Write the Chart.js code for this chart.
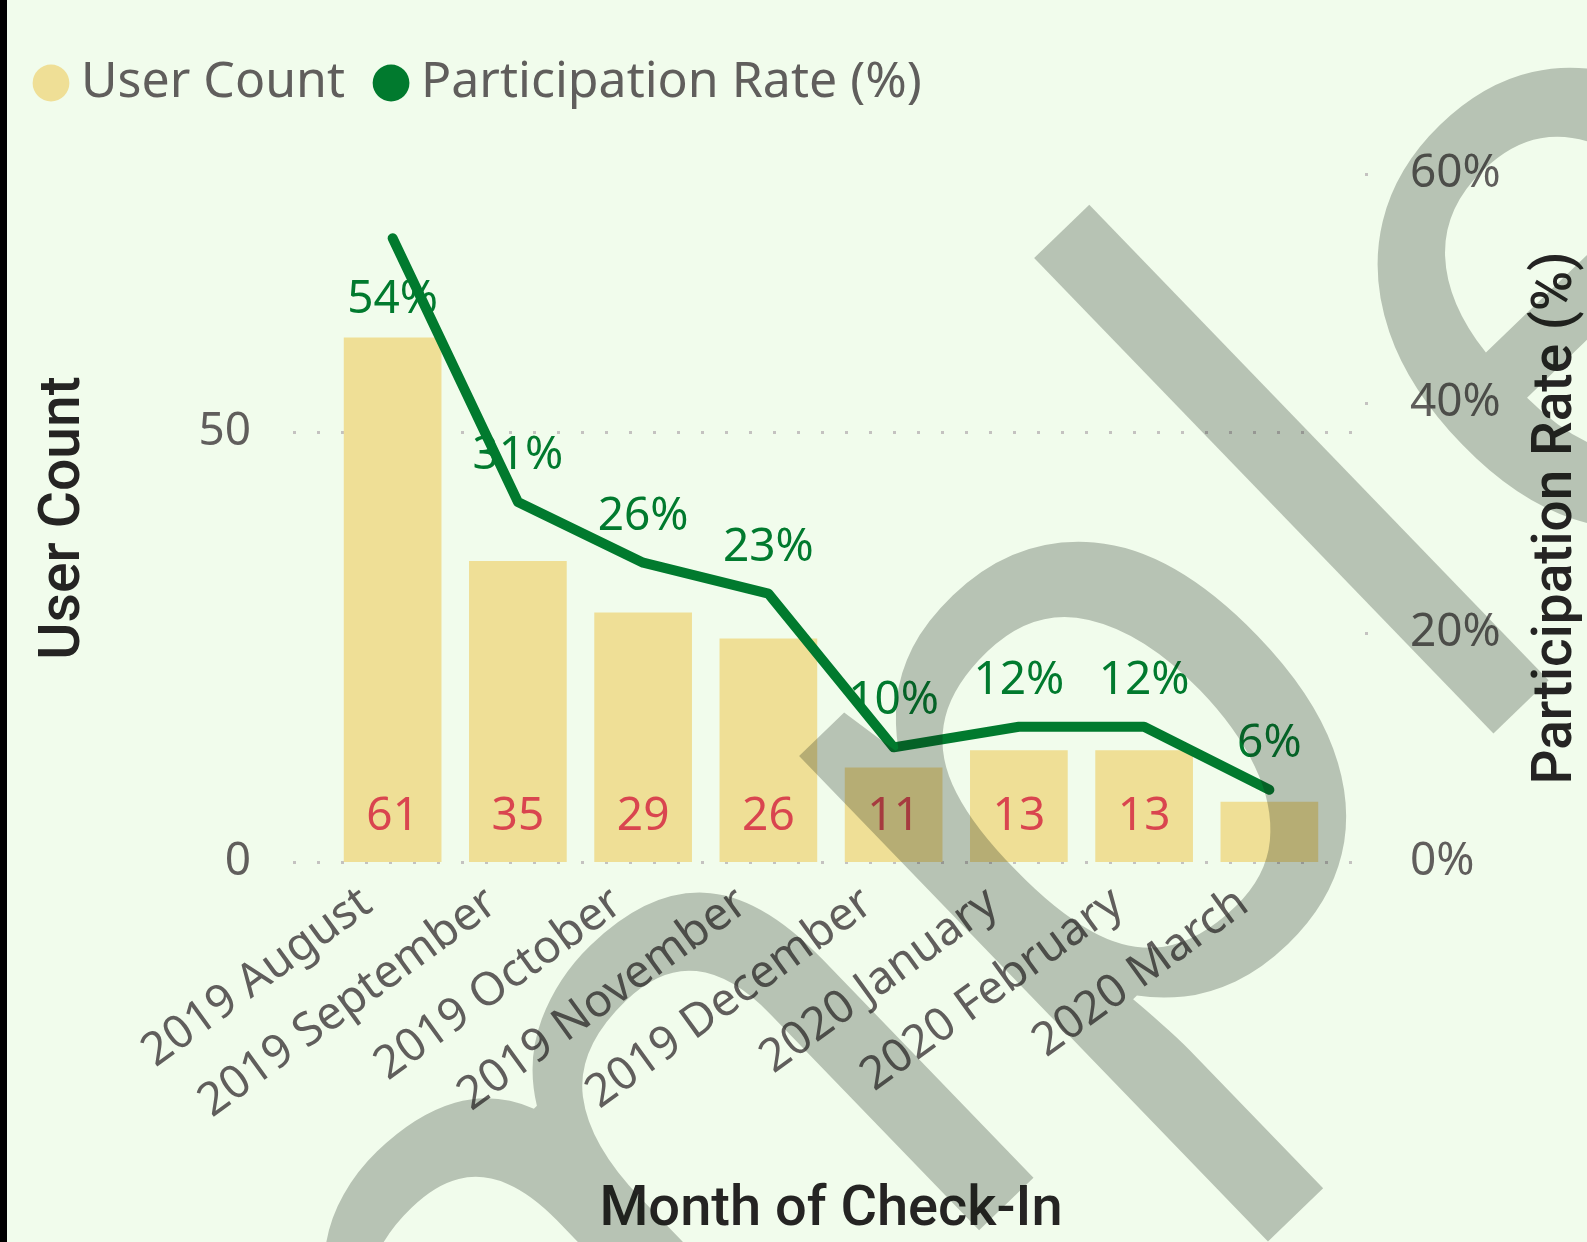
<!DOCTYPE html>
<html>
<head>
<meta charset="utf-8">
<script src="https://cdn.jsdelivr.net/npm/chart.js@4.4.0/dist/chart.umd.min.js"></script>
<style>
html,body{margin:0;padding:0;background:#f1fcec}
canvas{display:block}
</style>
</head>
<body>
<canvas id="chart" width="1587" height="1242"></canvas>
<script>
// data
const months=["2019 August","2019 September","2019 October","2019 November","2019 December","2020 January","2020 February","2020 March"]
const userCount=[61,35,29,26,11,13,13,7]
const participation=[54.4,31.4,26.1,23.4,10.0,11.8,11.8,6.3]
const leftTicks=[0,50]
const rightTicks=[0,20,40,60]

const bg='#f1fcec'
const barColor='#efdf96'
const green='#017a2e'
const red='#d9454f'
const grey='#605e5c'
const dark='#252423'
const segoe='"Noto Sans", sans-serif'
const din='Roboto, sans-serif'

const decor={
  id:'decor',
  beforeLayout(chart){
    const lg=chart.legend
    if(lg && !lg._patched){
      const fit=lg.fit
      lg.fit=function(){ fit.call(this); this.height+=56 }
      lg._patched=true
    }
  },
  beforeDraw(chart){
    const {ctx,width,height}=chart
    ctx.save()
    ctx.fillStyle=bg
    ctx.fillRect(0,0,width,height)
    ctx.fillStyle='#000'
    ctx.fillRect(0,0,7,height)
    const y=chart.scales.y, y1=chart.scales.y1
    ctx.strokeStyle='#c4c2c0'
    ctx.lineWidth=3
    ctx.setLineDash([3,21])
    leftTicks.forEach(v=>{
      const py=Math.round(y.getPixelForValue(v))+0.5
      ctx.beginPath(); ctx.moveTo(293,py); ctx.lineTo(1370,py); ctx.stroke()
    })
    ctx.setLineDash([])
    ctx.fillStyle='#c4c2c0'
    rightTicks.forEach(v=>{
      if(v===0) return
      const py=Math.round(y1.getPixelForValue(v))
      ctx.fillRect(1365,py-1,3,3)
    })
    ctx.restore()
  },
  afterDatasetDraw(chart,args){
    if(args.index!==0) return
    const ctx=chart.ctx
    const barMeta=chart.getDatasetMeta(0), lineMeta=chart.getDatasetMeta(1)
    ctx.save()
    ctx.font='46px '+segoe
    ctx.textAlign='center'
    ctx.textBaseline='middle'
    ctx.fillStyle=red
    barMeta.data.forEach((bar,i)=>{
      if(bar.base-bar.y<70) return
      ctx.fillText(userCount[i],bar.x,bar.base-45)
    })
    ctx.fillStyle=green
    lineMeta.data.forEach((pt,i)=>{
      const dy=pt.y-chart.chartArea.top<70 ? 62 : -46
      ctx.fillText(Math.round(participation[i])+'%',pt.x,pt.y+dy)
    })
    ctx.restore()
  },
  afterDraw(chart){
    const ctx=chart.ctx, ca=chart.chartArea
    ctx.save()
    ctx.translate(1557,(ca.top+ca.bottom)/2)
    ctx.rotate(-Math.PI/2)
    ctx.font='500 55px '+din
    ctx.fillStyle=dark
    ctx.textAlign='center'
    ctx.textBaseline='middle'
    ctx.fillText('Participation Rate (%)',0,0)
    ctx.restore()

    // watermark, anchored on the stem of the "l"
    ctx.save()
    ctx.translate(1521,707)
    ctx.rotate(-44*Math.PI/180)
    ctx.font='870px '+segoe
    const lHalf=ctx.measureText('l').width/2
    ctx.letterSpacing='-20px'
    ctx.fillStyle='rgba(20,30,20,0.26)'
    ctx.textAlign='left'
    ctx.textBaseline='alphabetic'
    const off=ctx.measureText('Samp').width+lHalf
    ctx.fillText('Sample',-off,0)
    ctx.restore()
  }
}

new Chart(document.getElementById('chart'),{
  data:{
    labels:months,
    datasets:[
      {type:'bar',label:'User Count',data:userCount,backgroundColor:barColor,yAxisID:'y',order:2,
       categoryPercentage:1,barPercentage:0.78},
      {type:'line',label:'Participation Rate (%)',data:participation,borderColor:green,backgroundColor:green,
       borderWidth:10,pointRadius:0,tension:0,borderCapStyle:'round',borderJoinStyle:'round',yAxisID:'y1',order:1}
    ]
  },
  options:{
    responsive:false,
    animation:false,
    layout:{padding:{left:5,top:17,right:0,bottom:0}},
    plugins:{
      legend:{
        position:'top',align:'start',
        labels:{
          usePointStyle:true,pointStyle:'circle',boxWidth:10,boxHeight:26,padding:41,
          color:grey,font:{family:segoe,size:50},
          sort:(a,b)=>a.datasetIndex-b.datasetIndex,
          generateLabels:chart=>Chart.defaults.plugins.legend.labels.generateLabels(chart).map(it=>{
            it.lineWidth=0
            it.pointStyle='circle'
            it.strokeStyle=it.fillStyle
            return it
          })
        }
      },
      tooltip:{enabled:false}
    },
    scales:{
      x:{
        grid:{display:false,drawTicks:false},
        border:{display:false},
        ticks:{autoSkip:false,minRotation:36,maxRotation:36,labelOffset:-26,color:grey,font:{family:segoe,size:46},padding:14},
        title:{display:true,text:'Month of Check-In',color:dark,font:{family:din,size:56,weight:'500',lineHeight:1.1},padding:{top:0,bottom:0}},
        afterFit(s){ s.height=380 }
      },
      y:{
        position:'left',min:0,max:80,
        grid:{display:false,drawTicks:false},
        border:{display:false},
        ticks:{stepSize:50,padding:79,color:grey,font:{family:segoe,size:46}},
        title:{display:true,text:'User Count',color:dark,font:{family:din,size:57,weight:'500'},padding:{top:26}},
        afterBuildTicks(s){ s.ticks=s.ticks.filter(t=>leftTicks.includes(t.value)) },
        afterFit(s){ s.width=325 }
      },
      y1:{
        position:'right',min:0,max:60,
        grid:{display:false,drawTicks:false},
        border:{display:false},
        ticks:{stepSize:20,padding:78,color:grey,font:{family:segoe,size:46},callback:v=>v+'%'},
        afterBuildTicks(s){ s.ticks=s.ticks.filter(t=>rightTicks.includes(t.value)) },
        afterFit(s){ s.width=255 }
      }
    }
  },
  plugins:[decor]
})
</script>
</body>
</html>
